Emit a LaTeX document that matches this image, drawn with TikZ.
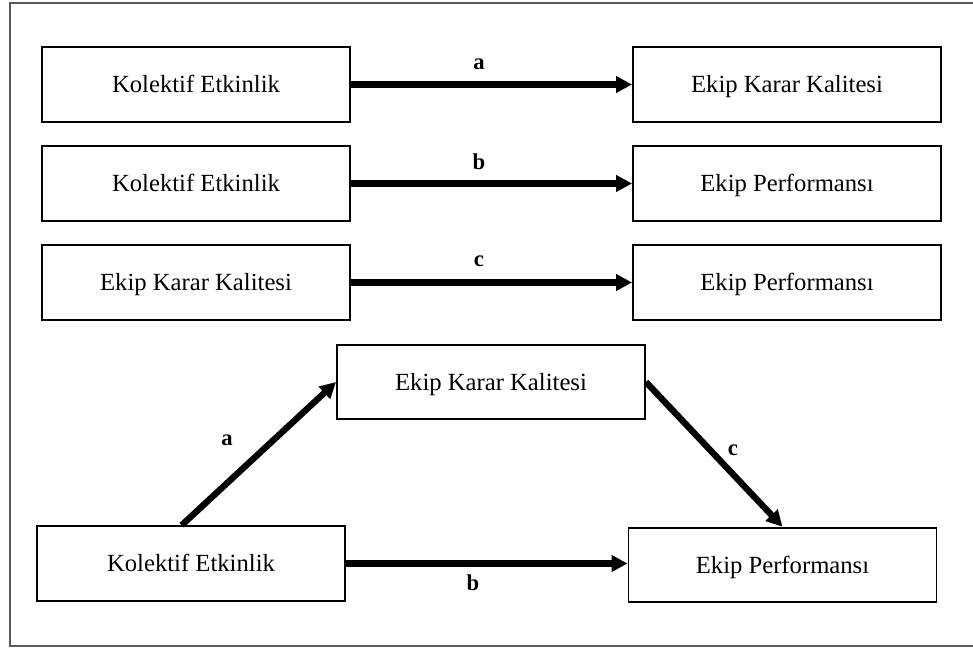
\documentclass[tikz,border=0pt]{standalone}
\usepackage{fontspec}
\setmainfont{Liberation Serif}
\usepackage{tikz}
\usetikzlibrary{arrows.meta,positioning}
\usepackage{xcolor}
\definecolor{framegray}{RGB}{90, 90, 90}

\begin{document}
\begin{tikzpicture}[x=0.75pt,y=-0.75pt,
    box/.style={draw=black,line width=1.4pt,minimum width=231pt,minimum height=56pt,
                inner sep=0pt,text height=12pt,text depth=0pt,
                font=\fontsize{18.5}{22}\selectfont},
    arr/.style={-{Triangle[length=12pt,width=12pt]},line width=4.8pt},
    lbl/.style={font=\fontsize{17}{20}\selectfont\bfseries,inner sep=0pt}]
    \useasboundingbox (0,0) rectangle (973,648);

    % Outer frame (open on the right)
    \draw[framegray,line width=1.1pt] (980,3) -- (10,3) -- (10,646) -- (980,646);

    % Step a
    \node[box] (ke1) at (196,84.5) {Kolektif Etkinlik};
    \node[box] (ekk1) at (787,84.5) {Ekip Karar Kalitesi};
    \draw[arr] (ke1) -- (ekk1);
    \node[lbl] (la1) at (479,64) {a};

    % Step b
    \node[box] (ke2) at (196,183.5) {Kolektif Etkinlik};
    \node[box] (ep2) at (787,183.5) {Ekip Performansı};
    \draw[arr] (ke2) -- (ep2);
    \node[lbl] (lb2) at (479,162) {b};

    % Step c
    \node[box] (ekk3) at (196,282.5) {Ekip Karar Kalitesi};
    \node[box] (ep3) at (787,282.5) {Ekip Performansı};
    \draw[arr] (ekk3) -- (ep3);
    \node[lbl] (lc3) at (479,261) {c};

    % Mediation model
    \node[box] (ekk4) at (491,382) {Ekip Karar Kalitesi};
    \node[box] (ke4) at (191,563.5) {Kolektif Etkinlik};
    \node[box] (ep4) at (782.5,565) {Ekip Performansı};
    \draw[arr] ([xshift=-7pt]ke4.north) -- (ekk4.west);
    \draw[arr] (ekk4.east) -- (ep4.north);
    \draw[arr] (ke4) -- (ke4 -| ep4.west);
    \node[lbl] (la4) at (227,440) {a};
    \node[lbl] (lc4) at (733,450) {c};
    \node[lbl] (lb4) at (473,583) {b};
\end{tikzpicture}
\end{document}
